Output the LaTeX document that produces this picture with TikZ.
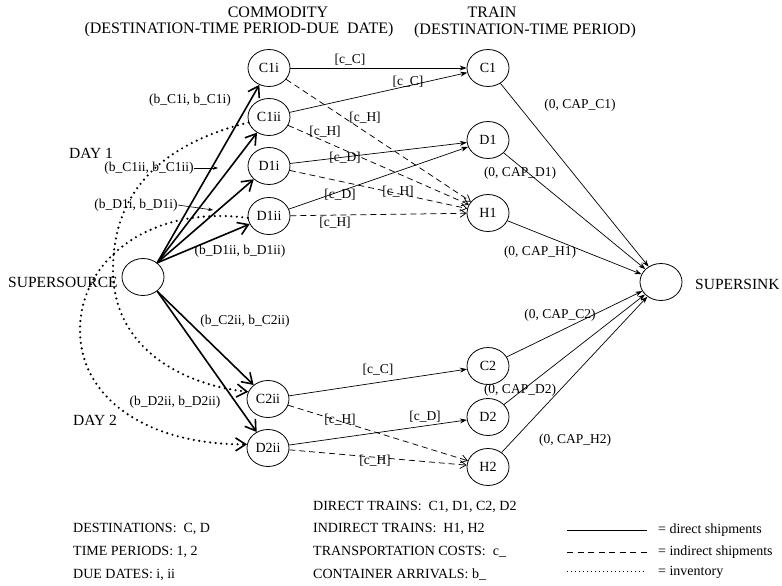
\documentclass[tikz,border=0pt]{standalone}
\usepackage{fontspec}
\setmainfont{Liberation Serif}
\usetikzlibrary{arrows.meta,shapes.geometric}
\begin{document}
\begin{tikzpicture}[x=1pt,y=-1pt,
  nd/.style={draw, ellipse, line width=0.8pt, minimum width=42pt, minimum height=37pt, inner sep=0pt, font=\fontsize{14}{16}\selectfont},
  lab/.style={inner sep=0pt, font=\fontsize{13.5}{16}\selectfont},
  big/.style={inner sep=0pt, font=\fontsize{15.5}{18}\selectfont},
  leg/.style={inner sep=0pt, anchor=west, font=\fontsize{14}{17}\selectfont},
  hdr/.style={inner sep=0pt, font=\fontsize{16}{19}\selectfont},
  supply/.style={line width=1.6pt, -{Straight Barb[length=10pt,width=13pt]}},
  direct/.style={line width=0.7pt, -{Stealth[length=7pt,width=5pt]}},
  indirect/.style={line width=0.75pt, dash pattern=on 6pt off 4pt, -{Straight Barb[length=6pt,width=8pt]}},
  invent/.style={line width=2.4pt, line cap=round, dash pattern=on 0pt off 5.5pt, -{Straight Barb[length=10pt,width=13pt,line width=1.6pt]}},
  labarrow/.style={line width=0.6pt, -{Stealth[length=5pt,width=3.5pt]}},
]
\fill[white] (0,0) rectangle (782,586);
\useasboundingbox (0,0) rectangle (782,586);

% headers
\node[hdr] (h1) at (278,12) {COMMODITY};
\node[hdr] (h2) at (239,30) {(DESTINATION-TIME PERIOD-DUE\ \ DATE)};
\node[hdr] (h3) at (492,12) {TRAIN};
\node[hdr] (h4) at (525,31) {(DESTINATION-TIME PERIOD)};

% nodes
\node[nd] (ss) at (143,277) {};
\node[nd] (C1i) at (269,68) {C1i};
\node[nd] (C1ii) at (269,117) {C1ii};
\node[nd] (D1i) at (269,166) {D1i};
\node[nd] (D1ii) at (269,216) {D1ii};
\node[nd] (C2ii) at (268,399) {C2ii};
\node[nd] (D2ii) at (268,448) {D2ii};
\node[nd] (C1) at (488,68) {C1};
\node[nd] (D1) at (488,140) {D1};
\node[nd] (H1) at (488,213) {H1};
\node[nd] (C2) at (488,366) {C2};
\node[nd] (D2) at (488,417) {D2};
\node[nd] (H2) at (488,467) {H2};
\node[nd] (sink) at (661,282) {};

\node[big, anchor=west] (srcname) at (8,282) {SUPERSOURCE};
\node[big, anchor=west] (sinkname) at (695,284) {SUPERSINK};
\node[big, anchor=west] (day1) at (69,153) {DAY 1};
\node[big, anchor=west] (day2) at (73,420) {DAY 2};

% inventory arcs
\draw[invent] (C1ii.195) .. controls (170,142) and (113,185) .. (113,270) .. controls (113,350) and (185,385) .. (C2ii.160);
\draw[invent] (D1ii.185) .. controls (150,205) and (80,260) .. (80,330) .. controls (80,400) and (150,445) .. (D2ii.170);

% supply arcs
\draw[supply] (ss.45) -- (C1i);
\draw[supply] (ss.45) -- (C1ii);
\draw[supply] (ss.45) -- (D1i);
\draw[supply] (ss.45) -- (D1ii);
\draw[supply] (ss.-45) -- (C2ii);
\draw[supply] (ss.-45) -- (D2ii);

% supply labels
\node[lab] (lb1) at (190,100) {(b\_C1i, b\_C1i)};
\node[lab] (lb2) at (149,168) {(b\_C1ii, b\_C1ii)};
\node[lab] (lb3) at (136,205) {(b\_D1i, b\_D1i)};
\node[lab] (lb4) at (240,251) {(b\_D1ii, b\_D1ii)};
\node[lab] (lb5) at (245,321) {(b\_C2ii, b\_C2ii)};
\node[lab] (lb6) at (175,402) {(b\_D2ii, b\_D2ii)};
\coordinate (m1) at (218,168);
\coordinate (m2) at (213,210);
\draw[labarrow] (lb2.east) -- (m1);
\draw[labarrow] (lb3.east) -- (m2);

% commodity -> train
\draw[direct] (C1i) -- (C1);
\draw[direct] (C1ii) -- (C1);
\draw[indirect] (C1i) -- (H1);
\draw[indirect] (C1ii) -- (H1);
\draw[direct] (D1i) -- (D1);
\draw[indirect] (D1i) -- (H1);
\draw[direct] (D1ii) -- (D1);
\draw[indirect] (D1ii) -- (H1);
\draw[direct] (C2ii) -- (C2);
\draw[indirect] (C2ii) -- (H2);
\draw[direct] (D2ii) -- (D2);
\draw[indirect] (D2ii) -- (H2);

\node[lab] (t1) at (350,60) {[c\_C]};
\node[lab] (t2) at (408,82) {[c\_C]};
\node[lab] (t3) at (365,118) {[c\_H]};
\node[lab] (t4) at (325,132) {[c\_H]};
\node[lab] (t5) at (345,158) {[c\_D]};
\node[lab] (t6) at (398,192) {[c\_H]};
\node[lab] (t7) at (340,195) {[c\_D]};
\node[lab] (t8) at (335,223) {[c\_H]};
\node[lab] (t9) at (378,370) {[c\_C]};
\node[lab] (t10) at (340,420) {[c\_H]};
\node[lab] (t11) at (425,417) {[c\_D]};
\node[lab] (t12) at (375,461) {[c\_H]};

% train -> sink
\draw[direct] (C1) -- (sink);
\draw[direct] (D1) -- (sink);
\draw[direct] (H1) -- (sink);
\draw[direct] (C2) -- (sink);
\draw[direct] (D2) -- (sink);
\draw[direct] (H2) -- (sink);

\node[lab] (k1) at (580,105) {(0, CAP\_C1)};
\node[lab] (k2) at (520,173) {(0, CAP\_D1)};
\node[lab] (k3) at (540,252) {(0, CAP\_H1)};
\node[lab] (k4) at (560,315) {(0, CAP\_C2)};
\node[lab] (k5) at (520,390) {(0, CAP\_D2)};
\node[lab] (k6) at (575,440) {(0, CAP\_H2)};

% legend
\node[leg] (g1) at (73,529) {DESTINATIONS:\ \ C, D};
\node[leg] (g2) at (73,552) {TIME PERIODS: 1, 2};
\node[leg] (g3) at (73,575) {DUE DATES: i, ii};
\node[leg] (g4) at (313,507) {DIRECT TRAINS:\ \ C1, D1, C2, D2};
\node[leg] (g5) at (313,529) {INDIRECT TRAINS:\ \ H1, H2};
\node[leg] (g6) at (313,552) {TRANSPORTATION COSTS:\ \ c\_};
\node[leg] (g7) at (313,575) {CONTAINER ARRIVALS: b\_};

\coordinate (s1a) at (567,530); \coordinate (s1b) at (647,530);
\coordinate (s2a) at (567,552); \coordinate (s2b) at (647,552);
\coordinate (s3a) at (567,571); \coordinate (s3b) at (647,571);
\draw[line width=0.7pt] (s1a) -- (s1b);
\draw[line width=0.8pt, dash pattern=on 6pt off 4.5pt] (s2a) -- (s2b);
\draw[line width=0.8pt, dash pattern=on 1pt off 3pt] (s3a) -- (s3b);
\node[leg] (e1) at (658,530) {= direct shipments};
\node[leg] (e2) at (658,552) {= indirect shipments};
\node[leg] (e3) at (658,572) {= inventory};
\end{tikzpicture}
\end{document}
